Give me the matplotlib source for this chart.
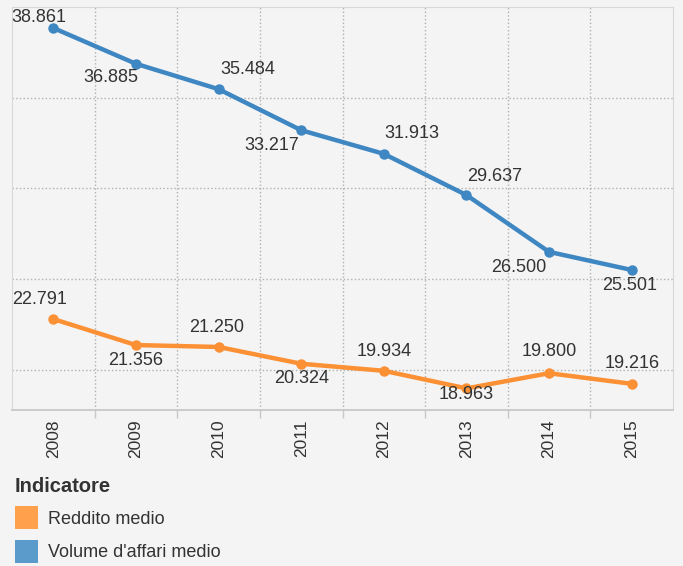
import matplotlib.pyplot as plt
from matplotlib.patches import Patch

years = ['2008', '2009', '2010', '2011', '2012', '2013', '2014', '2015']
volume = [38.861, 36.885, 35.484, 33.217, 31.913, 29.637, 26.500, 25.501]
reddito = [22.791, 21.356, 21.250, 20.324, 19.934, 18.963, 19.800, 19.216]
# label offsets in pixels (dx, dy) relative to each point
volume_off = [(-14, 10), (-25, -14), (29, 20), (-29, -15), (28, 20), (28, 19), (-30, -16), (-2, -16)]
reddito_off = [(-14, 20), (0, -15), (-2, 19), (0, -15), (0, 19), (0, -6), (0, 22), (0, 20)]

blue = '#3e87c2'
orange = '#fb9035'
bg = '#f4f4f4'

fig = plt.figure(figsize=(6.83, 5.66), dpi=100)
fig.patch.set_facecolor(bg)
ax = fig.add_axes([12/683, 1 - 410/566, 661/683, 403/566])
ax.set_facecolor(bg)

x = list(range(len(years)))
ax.plot(x, volume, color=blue, lw=3.2, marker='o', ms=6.5, zorder=3)
ax.plot(x, reddito, color=orange, lw=3.2, marker='o', ms=6.5, zorder=3)

px = 0.72  # pixels -> points
for i in x:
    dx, dy = volume_off[i]
    ax.annotate(f'{volume[i]:.3f}', (i, volume[i]), xytext=(dx*px, dy*px), textcoords='offset points',
                ha='center', va='center', fontsize=13, color='#333333', family='Liberation Sans', zorder=4)
    dx, dy = reddito_off[i]
    ax.annotate(f'{reddito[i]:.3f}', (i, reddito[i]), xytext=(dx*px, dy*px), textcoords='offset points',
                ha='center', va='center', fontsize=13, color='#333333', family='Liberation Sans', zorder=4)

ax.set_xlim(-0.5, 7.5)
ax.set_ylim(17.77, 40.02)

ax.set_yticks([20, 25, 30, 35])
ax.set_yticklabels([])
ax.tick_params(axis='y', length=0)
ax.set_xticks([v + 0.5 for v in x[:-1]], minor=True)
ax.set_xticks(x)
ax.set_xticklabels(years, rotation=90, fontsize=12.5, color='#333333', family='Liberation Sans')
ax.tick_params(axis='x', which='major', length=0, pad=7)
ax.tick_params(axis='x', which='minor', length=6, color='#c8c8c8', width=1)
ax.grid(True, which='minor', axis='x', ls=':', color='#b0b0b0', lw=1)
ax.grid(True, which='major', axis='y', ls=':', color='#b0b0b0', lw=1)

for s in ['left', 'top', 'right']:
    ax.spines[s].set_color('#d8d8d8')
ax.spines['bottom'].set_color('#c8c8c8')
ax.spines['bottom'].set_linewidth(1.3)

handles = [Patch(facecolor='#ffa04d', edgecolor='none', label='Reddito medio'),
           Patch(facecolor='#5b9bcb', edgecolor='none', label="Volume d'affari medio")]
leg = fig.legend(handles=handles, title='Indicatore', loc='upper left', bbox_to_anchor=(15/683, 1 - 477/566),
                 frameon=False, prop={'family': 'Liberation Sans', 'size': 13},
                 title_fontproperties={'family': 'Liberation Sans', 'size': 14.5, 'weight': 'bold'},
                 borderpad=0, borderaxespad=0,
                 handlelength=1.3, handleheight=1.58, handletextpad=0.55, labelspacing=0.58, alignment='left')
for t in leg.get_texts():
    t.set_color('#333333')
leg.get_title().set_color('#333333')

plt.savefig('out.png', dpi=100, facecolor=bg)
